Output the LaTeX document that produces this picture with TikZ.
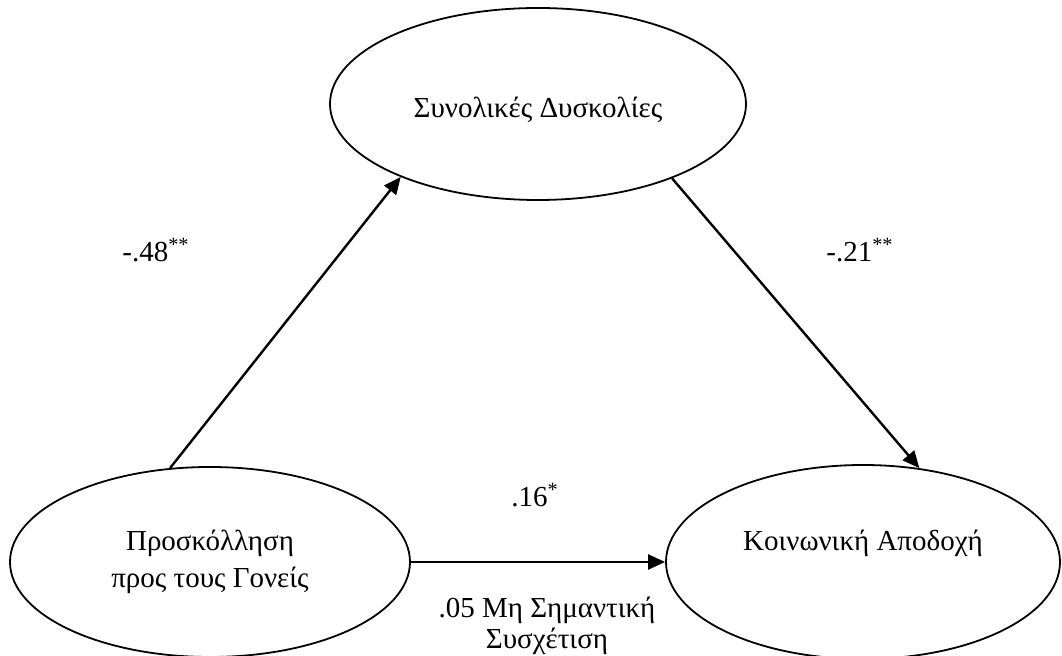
\documentclass[tikz,border=0pt]{standalone}
\usepackage{fontspec}
\setmainfont{Liberation Serif}
\usetikzlibrary{arrows.meta,shapes.geometric}

\tikzset{
  var/.style={draw, ellipse, line width=0.9pt, inner sep=0pt, align=center},
  coef/.style={inner sep=0pt, align=center},
  path/.style={-{Triangle[length=8.5pt,width=7.5pt]}, line width=1.2pt}
}

\begin{document}
\begin{tikzpicture}[x=0.5pt, y=-0.5pt, font=\fontsize{14.5}{18.5}\selectfont]
      \useasboundingbox (0,0) rectangle (1062,656);
      \node[var, minimum width=208pt, minimum height=96pt, text height=16pt] (dysk) at (538,104) {Συνολικές Δυσκολίες};
      \node[var, minimum width=200pt, minimum height=95pt] (prosk) at (210,562) {Προσκόλληση\\προς τους Γονείς};
      \node[var, minimum width=197pt, minimum height=97pt, text depth=22pt] (apod) at (863,562) {Κοινωνική Αποδοχή};
      % path coefficients
      \node[coef] (ab)  at (156,250) {-.48\textsuperscript{**}};
      \node[coef] (bc)  at (860,250) {-.21\textsuperscript{**}};
      \node[coef] (ac)  at (535,495) {.16\textsuperscript{*}};
      \node[coef, font=\fontsize{14.5}{15.5}\selectfont] (acd) at (547,626) {.05 Μη Σημαντική\\Συσχέτιση};
      \draw[path] (prosk.113) -- (dysk.208);
      \draw[path] (dysk.331)  -- (apod.59);
      \draw[path] (prosk.east) -- (apod.west);
    \end{tikzpicture}
\end{document}
